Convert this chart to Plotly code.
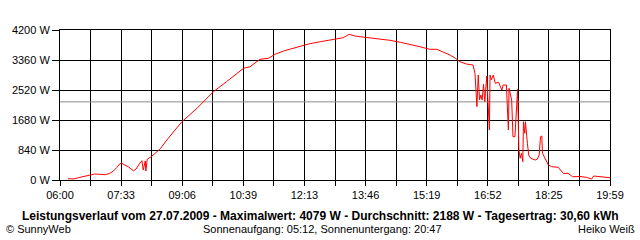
import plotly.graph_objects as go

# ---- data ----
times = ["06:12","06:20","06:28","06:36","06:48","06:53","07:01","07:09","07:16","07:21",
         "07:27","07:31","07:34","07:39","07:44","07:52","07:56","08:02","08:05","08:07",
         "08:10","08:11","08:13","08:20","08:28","08:33","08:43","09:06","09:29","09:54",
         "10:14","10:40","10:50","11:05","11:18","11:28","11:41","11:56","12:11","12:19",
         "12:37","12:57","13:12","13:21","13:30","13:38","13:53","14:08","14:23","14:39",
         "14:54","15:09","15:24","15:35","15:45","15:55","16:03","16:10","16:20","16:30",
         "16:33","16:36","16:38","16:40","16:42","16:44","16:46","16:48","16:51","16:53",
         "16:55","16:56","16:58","17:01","17:04","17:09","17:14","17:16","17:21","17:24",
         "17:25","17:29","17:31","17:34","17:36","17:38","17:39","17:40","17:42","17:44",
         "17:46","17:47","17:49","17:50","17:53","17:55","17:58","18:05","18:08","18:11",
         "18:13","18:15","18:16","18:20","18:25","18:30","18:40","18:48","18:55","19:02",
         "19:13","19:23","19:31","19:34","19:44","19:54","19:59"]
power_w = [36, 28, 64, 92, 148, 168, 160, 148, 188, 244,
           356, 448, 468, 428, 372, 260, 308, 476, 540, 280,
           532, 252, 580, 664, 792, 876, 1120, 1632, 2008, 2472,
           2752, 3128, 3172, 3380, 3408, 3520, 3612, 3688, 3760, 3808,
           3872, 3940, 3984, 4079, 4032, 4012, 3984, 3940, 3912, 3856,
           3800, 3732, 3660, 3660, 3576, 3500, 3408, 3312, 3248, 3220,
           2988, 2052, 2940, 2240, 2380, 2240, 2680, 2192, 2912, 2052,
           1400, 2940, 2800, 2940, 2708, 2736, 2520, 2660, 2660, 1400,
           2568, 2240, 1212, 1212, 2052, 2540, 1728, 840, 608, 748,
           512, 1632, 1308, 1632, 1028, 700, 608, 560, 580, 700,
           1212, 1232, 748, 608, 420, 372, 356, 182, 188, 92,
           98, 76, 28, 112, 92, 90, 64]
average_w = 2188
x_tick_labels = ["06:00","07:33","09:06","10:39","12:13","13:46","15:19","16:52","18:25","19:59"]
y_ticks = [0, 840, 1680, 2520, 3360, 4200]
title_text = ("Leistungsverlauf vom 27.07.2009 - Maximalwert: 4079 W - "
              "Durchschnitt: 2188 W - Tagesertrag: 30,60 kWh")
footer_left = "© SunnyWeb"
footer_mid = "Sonnenaufgang: 05:12, Sonnenuntergang: 20:47"
footer_right = "Heiko Weiß"

def to_min(s):
    h, m = s.split(":")
    return int(h) * 60 + int(m)

x_vals = [to_min(t) for t in times]
x_start = to_min(x_tick_labels[0])
x_end = to_min(x_tick_labels[-1])
n_grid = 2 * (len(x_tick_labels) - 1)
grid_vals = [x_start + (x_end - x_start) * i / n_grid for i in range(n_grid + 1)]
grid_text = [x_tick_labels[i // 2] if i % 2 == 0 else "" for i in range(n_grid + 1)]

FONT = "Liberation Sans"

fig = go.Figure()
fig.add_trace(go.Scatter(x=[x_start, x_end], y=[average_w, average_w], mode="lines",
                         line=dict(color="#8c8c8c", width=1), hoverinfo="skip"))
fig.add_trace(go.Scatter(x=x_vals, y=power_w, mode="lines",
                         line=dict(color="#ff0000", width=1)))

fig.update_layout(
    width=640, height=240,
    margin=dict(l=60, r=30, t=30, b=60),
    paper_bgcolor="white", plot_bgcolor="white",
    showlegend=False,
    font=dict(family=FONT, size=11, color="black"),
    xaxis=dict(range=[x_start, x_end], tickvals=grid_vals, ticktext=grid_text,
               showgrid=True, gridcolor="black", gridwidth=1,
               showline=True, linecolor="black", linewidth=1, mirror=True,
               ticks="outside", ticklen=5, tickcolor="black", zeroline=False,
               tickfont=dict(family=FONT, size=11)),
    yaxis=dict(range=[0, 4200], tickvals=y_ticks, ticktext=[f"{v} W" for v in y_ticks],
               showgrid=True, gridcolor="black", gridwidth=1,
               showline=True, linecolor="black", linewidth=1, mirror=True,
               ticks="outside", ticklen=7, tickcolor="black", zeroline=False,
               tickfont=dict(family=FONT, size=11)),
)

fig.add_annotation(text=f"<b>{title_text}</b>", xref="paper", yref="paper",
                   x=(320 - 60) / 550, y=0, yshift=-36, xanchor="center", yanchor="middle",
                   showarrow=False, font=dict(family=FONT, size=12, color="black"))
fig.add_annotation(text=footer_left, xref="paper", yref="paper",
                   x=(4 - 60) / 550, y=0, yshift=-49, xanchor="left", yanchor="middle",
                   showarrow=False, font=dict(family=FONT, size=11, color="black"))
fig.add_annotation(text=footer_mid, xref="paper", yref="paper",
                   x=(322 - 60) / 550, y=0, yshift=-49, xanchor="center", yanchor="middle",
                   showarrow=False, font=dict(family=FONT, size=11, color="black"))
fig.add_annotation(text=footer_right, xref="paper", yref="paper",
                   x=(637 - 60) / 550, y=0, yshift=-49, xanchor="right", yanchor="middle",
                   showarrow=False, font=dict(family=FONT, size=11, color="black"))

fig.write_html("out.html")
